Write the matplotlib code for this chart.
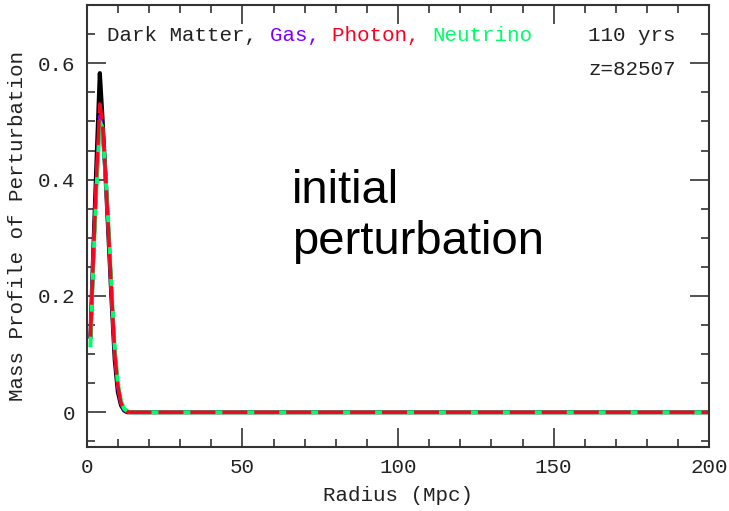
import matplotlib
matplotlib.use("Agg")
import matplotlib.pyplot as plt

# radius (Mpc) and mass profile of the perturbation
radius = [1.2, 2, 3, 4.2, 5, 6, 7, 8, 9, 10, 11, 12, 13, 14, 200]
dark_matter = [0.13, 0.26, 0.41, 0.583, 0.51, 0.41, 0.30, 0.19, 0.09, 0.035, 0.012, 0.003, 0.0, 0.0, 0.0]
gas = [0.13, 0.25, 0.38, 0.51, 0.49, 0.41, 0.31, 0.20, 0.10, 0.042, 0.015, 0.004, 0.001, 0.0, 0.0]
photon = [0.13, 0.25, 0.39, 0.53, 0.50, 0.41, 0.31, 0.20, 0.10, 0.045, 0.016, 0.005, 0.001, 0.0, 0.0]
neutrino = [0.115, 0.24, 0.37, 0.50, 0.49, 0.41, 0.32, 0.21, 0.11, 0.05, 0.02, 0.006, 0.002, 0.0, 0.0]

xticks = [0, 50, 100, 150, 200]
yticks = [0, 0.2, 0.4, 0.6]
ytick_labels = ["0", "0.2", "0.4", "0.6"]

c_gas = "#7f00ff"
c_photon = "#ff0022"
c_neutrino = "#00ff66"
mono = "Liberation Mono"
fs = 15

fig = plt.figure(figsize=(7.29, 5.11), dpi=100)
ax = fig.add_axes([0.119, 0.125, 0.854, 0.865])

ax.plot(radius, dark_matter, color="black", lw=3)
ax.plot(radius, gas, color=c_gas, lw=2.5)
ax.plot(radius, neutrino, color=c_neutrino, lw=2.8)
ax.plot(radius, photon, color=c_photon, lw=2.5, dashes=(7.2, 2))

ax.set_xlim(0, 200)
ax.set_ylim(-0.06, 0.70)
ax.set_xticks(xticks)
ax.set_xticklabels([str(t) for t in xticks])
ax.set_yticks(yticks)
ax.set_yticklabels(ytick_labels)
ax.set_xticks(range(0, 201, 10), minor=True)
ax.set_yticks([i * 0.05 for i in range(-1, 14)], minor=True)
ax.tick_params(which="both", direction="in", top=True, right=True, color="#333333", width=1.2)
ax.tick_params(which="major", length=14, labelsize=fs, pad=8, labelcolor="#222222")
ax.tick_params(which="minor", length=6)
for lab in ax.get_xticklabels() + ax.get_yticklabels():
    lab.set_family(mono)
for s in ax.spines.values():
    s.set_color("#333333")
    s.set_linewidth(1.5)

ax.set_xlabel("Radius (Mpc)", family=mono, fontsize=fs, labelpad=6, color="#222222")
ax.set_ylabel("Mass Profile of Perturbation", family=mono, fontsize=fs, labelpad=8, color="#222222")

# coloured legend line, pieces chained one after the other
t = ax.text(0.033, 0.918, "Dark Matter, ", transform=ax.transAxes, family=mono,
            fontsize=fs, color="#222222", va="baseline")
for word, col in [("Gas, ", c_gas), ("Photon, ", c_photon), ("Neutrino", c_neutrino)]:
    t = ax.annotate(word, xy=(1, 0), xycoords=t, family=mono, fontsize=fs,
                    color=col, va="bottom")

ax.text(0.946, 0.918, "110 yrs", transform=ax.transAxes, family=mono,
        fontsize=fs, color="#222222", ha="right", va="baseline")
ax.text(0.946, 0.842, "z=82507", transform=ax.transAxes, family=mono,
        fontsize=fs, color="#222222", ha="right", va="baseline")

ax.text(66, 0.418, "initial\nperturbation", family="Liberation Sans", fontsize=34,
        color="black", va="top", ha="left", linespacing=1.2)

fig.savefig("out.png", dpi=100)
